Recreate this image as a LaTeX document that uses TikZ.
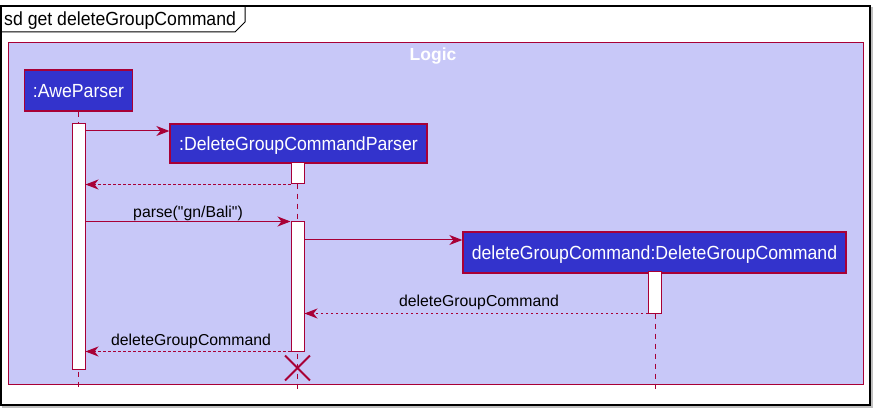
\documentclass[tikz,border=0pt]{standalone}
\usepackage{fontspec}
\setmainfont{Liberation Sans}[Ligatures=TeXOff]
\newfontfamily\partfont[FakeStretch=0.93]{Liberation Sans}
\usetikzlibrary{arrows.meta,shapes.misc}
\definecolor{crim}{HTML}{A80036}
\definecolor{pfill}{HTML}{3333CC}
\definecolor{boxfill}{HTML}{C8C8F8}
\begin{document}
\begin{tikzpicture}[x=1pt,y=-1pt,
  part/.style={draw=crim, line width=1.3pt, fill=pfill, text=white,
    font=\partfont\fontsize{19}{22}\selectfont, inner sep=0pt,
    text height=15pt, text depth=0pt},
  act/.style={draw=crim, line width=1pt, fill=white, inner sep=0pt, minimum width=13pt},
  life/.style={draw=crim, line width=1pt, dash pattern=on 5pt off 5pt},
  msg/.style={draw=crim, line width=1pt, -{Stealth[length=13pt,width=10pt,inset=4pt]}},
  ret/.style={msg, dash pattern=on 2.5pt off 2.5pt},
  lbl/.style={font=\fontsize{15.8}{18}\selectfont, anchor=base, inner sep=0pt, text=black}]
\useasboundingbox (0,0) rectangle (877,411);
% outer frame
\draw[black!25, line width=1.2pt] (3,8) rectangle (872,407);
\draw[black, line width=1.2pt, fill=white] (1,6) rectangle (870,405);
\draw[black, line width=1pt] (1,32) -- (235,32) -- (245,22) -- (245,6);
\node[anchor=base west, inner sep=0pt, font=\partfont\fontsize{19}{22}\selectfont] (title) at (4,26) {sd get deleteGroupCommand};
% Logic box
\node[draw=crim, fill=boxfill, line width=1pt, minimum width=855pt, minimum height=342pt, inner sep=0pt, anchor=north west] (logic) at (8,42) {};
\node[anchor=base, inner sep=0pt, text=white, font=\bfseries\fontsize{17.5}{20}\selectfont] (logictitle) at (433,61) {Logic};
% participants
\node[part, minimum width=108pt, minimum height=41pt] (p1) at (78.5,90.5) {:AweParser};
\node[part, minimum width=257pt, minimum height=39pt] (p2) at (298.5,143.5) {:DeleteGroupCommandParser};
\node[part, minimum width=383pt, minimum height=41pt] (p3) at (654.5,252.5) {deleteGroupCommand:DeleteGroupCommand};
% lifeline ends
\coordinate (e1) at (78.5,390);
\coordinate (e2) at (297.5,390);
\coordinate (e3) at (655,390);
\draw[life] (p1.south) -- (e1);
\draw[life] (e2 |- p2.south) -- (e2);
\draw[life] (e3 |- p3.south) -- (e3);
% activations
\node[act, minimum height=245pt] (a1) at (78.5,246.5) {};
\node[act, minimum height=21pt] (a2) at (297.5,173.5) {};
\node[act, minimum height=129pt] (a3) at (297.5,286.5) {};
\node[act, minimum height=41pt] (a4) at (655,292.5) {};
% destroy
\node[draw=crim, cross out, line width=1.8pt, minimum size=23pt, inner sep=0pt] (x) at (297.5,368) {};
% messages
\coordinate (y1) at (0,131);
\coordinate (y4) at (0,240);
\draw[msg] (a1.east |- y1) -- (p2.west |- y1);
\draw[ret] (a2.south west) -- (a1.east |- a2.south west);
\draw[msg] (a1.east |- a3.north) -- (a3.north west);
\node[lbl] (l3) at (188,217.5) {parse("gn/Bali")};
\draw[msg] (a3.east |- y4) -- (p3.west |- y4);
\draw[ret] (a4.south west) -- (a3.east |- a4.south west);
\node[lbl] (l5) at (479,306.5) {deleteGroupCommand};
\draw[ret] (a3.south west) -- (a1.east |- a3.south west);
\node[lbl] (l6) at (191,345) {deleteGroupCommand};
\end{tikzpicture}
\end{document}
